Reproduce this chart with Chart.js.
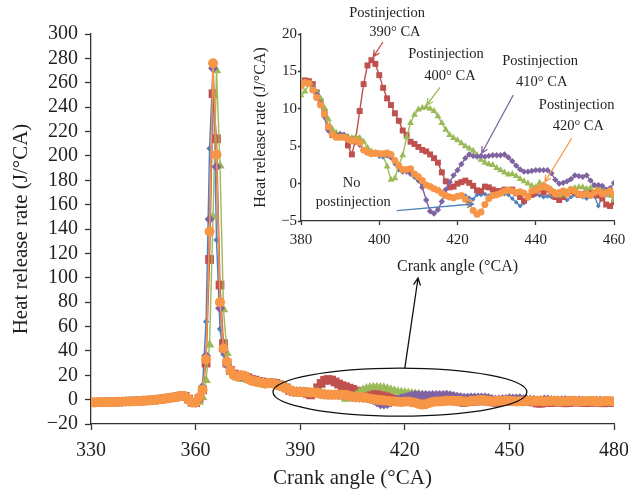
<!DOCTYPE html>
<html>
<head>
<meta charset="utf-8">
<script src="https://cdn.jsdelivr.net/npm/chart.js@4.4.0/dist/chart.umd.min.js"></script>
<style>
  body { margin: 0; background: #fff; }
  #wrap { position: relative; width: 628px; height: 492px; }
  #main { position: absolute; left: 0; top: 0; }
  #inset { position: absolute; left: 240px; top: 0; }
</style>
</head>
<body>
<div id="wrap">
  <canvas id="main" width="628" height="492"></canvas>
  <canvas id="inset" width="388" height="285"></canvas>
</div>
<script>
// crank angle, 1 deg steps
var crankAngle = [
  330,331,332,333,334,335,336,337,338,339,340,341,342,343,344,345,346,347,348,349,
  350,351,352,353,354,355,356,357,358,359,360,361,362,363,364,365,366,367,368,369,
  370,371,372,373,374,375,376,377,378,379,380,381,382,383,384,385,386,387,388,389,
  390,391,392,393,394,395,396,397,398,399,400,401,402,403,404,405,406,407,408,409,
  410,411,412,413,414,415,416,417,418,419,420,421,422,423,424,425,426,427,428,429,
  430,431,432,433,434,435,436,437,438,439,440,441,442,443,444,445,446,447,448,449,
  450,451,452,453,454,455,456,457,458,459,460,461,462,463,464,465,466,467,468,469,
  470,471,472,473,474,475,476,477,478,479,480
];

var noPost = [
  -2.3,-2.3,-2.2,-2.2,-2.1,-2.0,-2.0,-1.9,-1.8,-1.7,-1.6,-1.5,-1.4,-1.3,-1.1,-1.0,-0.8,-0.6,-0.3,0.0,
  0.3,0.7,1.1,1.5,2.0,2.5,3.0,2.6,0.2,-2.3,-1.5,3,12,64,206,274,131,58,37,27,
  22,20,19.5,19,18,17,16,15,14.5,14,13.4,13.6,13.5,12.6,11.8,10.8,8.8,7.0,6.4,6.2,
  6.5,6.6,6.2,5.9,5.7,5.3,4.5,4.1,4.0,4.0,3.6,3.5,3.8,3.6,2.6,1.8,1.5,1.6,1.2,0.8,
  0.3,-0.2,-0.3,-0.5,-0.7,-0.9,-1.1,-1.5,-1.7,-1.8,-1.7,-1.5,-1.6,-1.9,-2.1,-1.5,-1.5,-1.4,-1.6,-1.7,
  -1.6,-1.4,-1.4,-1.5,-2.0,-2.5,-3.0,-2.6,-2.0,-1.6,-1.5,-1.6,-1.8,-1.7,-1.8,-1.6,-1.4,-1.6,-2.2,-1.8,
  -1.5,-1.6,-1.8,-2.0,-1.6,-1.7,-3.0,-1.8,-1.5,-1.6,-1.8,-1.8,-2.0,-1.6,-1.4,-1.5,-1.7,-2.0,-1.8,-1.5,
  -1.4,-1.6,-1.8,-2.0,-1.7,-1.5,-1.4,-1.6,-1.8,-1.9,-1.7
];
var post390 = [
  -2.2,-2.3,-2.2,-2.1,-2.1,-2.0,-1.9,-1.9,-1.8,-1.6,-1.5,-1.5,-1.3,-1.2,-1.1,-0.9,-0.8,-0.5,-0.3,0.1,
  0.4,0.7,1.2,1.6,2.0,2.6,3.1,2.7,0.4,-2.2,-2.5,1,8,30,115,251,214,94,46,30,
  24,21,20,20,19,18,16.5,16,15,14.5,13.2,13.8,13.7,13.3,12.2,11.0,9.6,7.5,6.5,6.3,
  6.4,6.2,5.1,3.9,6.0,9.7,13.3,15.8,16.5,16.0,14.5,12.8,11.4,10.5,9.4,8.4,7.1,6.5,5.6,5.3,
  4.9,4.5,4.3,3.9,3.4,2.8,1.5,0.3,-0.5,-0.4,0.0,0.2,0.4,0.1,-0.3,-0.9,-1.0,-0.4,-0.5,-0.8,
  -1.0,-1.0,-0.8,-0.9,-0.8,-1.3,-1.8,-2.3,-1.7,-1.5,-1.2,-0.8,-1.2,-0.8,-1.2,-1.8,-2.2,-1.8,-1.3,-1.0,
  -1.2,-1.5,-1.4,-1.1,-1.2,-1.4,-1.6,-2.0,-2.8,-3.0,-2.5,-2.2,-2.4,-2.0,-1.8,-2.2,-2.6,-2.4,-2.0,-1.8,
  -2.0,-2.3,-2.5,-2.2,-1.9,-2.0,-2.3,-2.6,-2.4,-2.1,-2.3
];
var post400 = [
  -2.4,-2.3,-2.3,-2.2,-2.2,-2.1,-2.0,-1.9,-1.9,-1.7,-1.6,-1.5,-1.4,-1.3,-1.2,-1.0,-0.9,-0.6,-0.4,-0.1,
  0.2,0.6,1.0,1.4,1.9,2.4,2.9,2.5,0.1,-2.5,-2.8,-2,2,16,45,150,270,192,74,38,
  26,21,18,17,17,16,15,14,13,12.5,11.8,12.3,13.2,12.9,12.2,11.4,10.1,8.6,7.3,6.8,
  6.6,6.4,6.3,6.1,6.2,6.1,5.6,4.8,4.3,4.1,4.0,3.8,2.3,0.5,0.7,2.5,3.8,6.2,8.1,9.2,
  9.9,10.1,10.2,10.0,9.7,9.0,8.1,7.2,6.5,6.1,5.8,5.4,5.0,4.7,4.4,3.8,3.2,2.8,2.6,2.5,
  2.1,1.8,1.5,1.2,1.3,1.0,0.6,0.3,0.0,-0.3,-0.5,0.1,-0.2,-0.6,-0.8,-1.2,-1.6,-1.4,-1.1,-0.8,
  -0.6,-0.5,-0.5,-0.7,-0.6,-0.3,-0.4,-0.8,-1.2,-1.6,-2.2,-2.0,-1.6,-1.2,-1.0,-1.3,-1.7,-2.0,-1.8,-1.4,
  -1.2,-1.5,-1.8,-2.0,-1.7,-1.4,-1.3,-1.6,-1.9,-2.0,-1.8
];
var post410 = [
  -2.3,-2.2,-2.2,-2.1,-2.1,-2.0,-1.9,-1.8,-1.7,-1.7,-1.5,-1.4,-1.4,-1.2,-1.1,-0.9,-0.7,-0.6,-0.3,0.0,
  0.3,0.8,1.1,1.6,2.1,2.5,3.0,2.6,0.3,-2.3,-2.5,1,8,36,148,272,191,75,40,29,
  23,20,19,19,18,17,16,15,14.5,14,13.3,13.6,13.5,12.8,11.9,10.7,9.0,7.2,6.5,6.4,
  6.6,6.5,6.1,5.8,5.6,5.2,4.5,4.2,4.0,4.0,4.0,3.8,3.8,3.5,3.0,2.2,1.7,1.6,1.4,1.1,
  0.5,-0.5,-2.2,-3.7,-4.0,-3.5,-2.4,-0.8,0.2,1.1,1.8,2.6,3.4,3.9,3.7,3.6,3.7,3.6,3.7,3.8,
  3.8,3.8,3.9,3.5,3.0,2.4,1.9,1.6,1.6,1.7,1.8,1.8,1.8,1.8,1.4,0.5,0.0,0.1,0.3,0.6,
  1.1,1.0,0.9,1.1,0.4,-0.2,-0.2,-0.3,-0.8,-0.6,0.1,0.2,-0.3,-0.8,-1.0,-0.6,-0.4,-0.8,-1.2,-1.0,
  -0.7,-0.9,-1.3,-1.5,-1.2,-0.9,-1.0,-1.4,-1.6,-1.3,-1.5
];
var post420 = [
  -2.2,-2.3,-2.2,-2.2,-2.1,-2.0,-2.0,-1.9,-1.8,-1.7,-1.6,-1.5,-1.4,-1.3,-1.1,-1.0,-0.8,-0.6,-0.3,0.0,
  0.3,0.7,1.1,1.5,2.0,2.5,3.0,2.6,0.2,-2.3,-2.3,2,8,33,138,276,201,80,42,31,
  24,20,19,20,19.5,17,15.5,15,14.5,13.8,13.0,13.5,13.4,12.5,11.5,10.5,9.3,7.6,6.6,6.2,
  6.2,6.2,6.0,5.7,5.8,5.5,4.5,4.2,4.0,4.1,4.0,4.0,4.1,3.9,3.1,2.4,1.9,1.9,2.0,1.3,
  0.9,0.4,-0.2,-0.4,-0.7,-0.9,-1.3,-1.6,-1.8,-1.9,-1.7,-1.6,-2.1,-2.6,-3.6,-4.1,-3.8,-2.8,-2.0,-1.6,
  -1.5,-1.3,-1.0,-0.9,-1.0,-1.2,-1.1,-1.3,-1.8,-1.0,-0.9,-0.6,-0.3,-0.6,-1.0,-1.4,-1.2,-1.0,-1.4,-0.8,
  -1.0,-1.4,-1.5,-1.4,-1.6,-1.2,-1.0,-1.4,-1.2,-1.0,-1.5,-1.4,-1.2,-1.0,-1.3,-1.6,-1.4,-1.1,-1.0,-1.3,
  -1.5,-1.6,-1.3,-1.1,-1.2,-1.5,-1.7,-1.4,-1.2,-1.3,-1.5
];

var mainXTicks = [330, 360, 390, 420, 450, 480];
var mainYTicks = [-20, 0, 20, 40, 60, 80, 100, 120, 140, 160, 180, 200, 220, 240, 260, 280, 300];
var insetXTicks = [380, 400, 420, 440, 460];
var insetYTicks = [-5, 0, 5, 10, 15, 20];

var FONT = "'Liberation Serif', 'DejaVu Serif', serif";
var INK = '#231f20';

var series = [
  { label: 'Postinjection 420° CA', data: post420, color: '#F79646', style: 'circle', r: 5, ri: 3.5, order: 0 },
  { label: 'Postinjection 410° CA', data: post410, color: '#8064A2', style: 'rectRot', r: 5, ri: 3.2, order: 1 },
  { label: 'Postinjection 400° CA', data: post400, color: '#9BBB59', style: 'triangle', r: 5.5, ri: 4, order: 2 },
  { label: 'Postinjection 390° CA', data: post390, color: '#C0504D', style: 'rect', r: 6.2, ri: 4.2, order: 3 },
  { label: 'No postinjection', data: noPost, color: '#4F81BD', style: 'rectRot', r: 3.2, ri: 2.4, order: 4 }
];

// annotations (data coordinates)
var zoomEllipse = { x1: 382.2, x2: 455, y1: -13.5, y2: 25.9 };
var zoomArrow = { from: [420, 25.9], to: [423.8, 99.8] };

var insetNotes = [
  { lines: [['Postinjection', 402.0, 22.8], ['390° CA', 404.0, 20.27]], from: [400.96, 18.93], to: [398.48, 16.97], color: '#C0504D' },
  { lines: [['Postinjection', 417.06, 17.33], ['400° CA', 418.08, 14.39]], from: [415.53, 12.87], to: [412.13, 10.51], color: '#9BBB59' },
  { lines: [['Postinjection', 441.09, 16.3], ['410° CA', 441.52, 13.62]], from: [434.26, 11.84], to: [426.19, 4.05], color: '#8064A2' },
  { lines: [['Postinjection', 450.47, 10.51], ['420° CA', 450.88, 7.61]], from: [449.19, 6.06], to: [442.36, 0.25], color: '#F79646' },
  { lines: [['No', 392.96, 0.04], ['postinjection', 393.37, -2.55]], from: [404.46, -3.62], to: [424.04, -2.73], color: '#4F81BD' }
];

function minus(v) {
  return v < 0 ? '\u2212' + Math.abs(v) : '' + v;
}

function arrow(ctx, x1, y1, x2, y2, color, head) {
    let a = Math.atan2(y2 - y1, x2 - x1);
    ctx.save();
    ctx.strokeStyle = color;
    ctx.lineWidth = 1.3;
    ctx.beginPath();
    ctx.moveTo(x1, y1);
    ctx.lineTo(x2, y2);
    ctx.moveTo(x2 - head * Math.cos(a - 0.45), y2 - head * Math.sin(a - 0.45));
    ctx.lineTo(x2, y2);
    ctx.lineTo(x2 - head * Math.cos(a + 0.45), y2 - head * Math.sin(a + 0.45));
    ctx.stroke();
    ctx.restore();
}

function makeDatasets(inset) {
  return series.map(function (s) {
    return {
      label: s.label,
      data: crankAngle.map(function (x, i) { return { x: x, y: s.data[i] }; }),
      borderColor: s.color,
      backgroundColor: s.color,
      borderWidth: 1.4,
      pointStyle: s.style,
      pointRadius: inset ? s.ri : s.r,
      pointBorderWidth: 0,
      pointBackgroundColor: s.color,
      order: s.order,
      tension: 0
    };
  });
}

function axis(opts) {
  return {
    type: 'linear',
    min: opts.ticks[0],
    max: opts.ticks[opts.ticks.length - 1],
    afterBuildTicks: function (s) { s.ticks = opts.ticks.map(function (v) { return { value: v }; }); },
    afterFit: opts.fit,
    border: { display: true, color: '#333', width: 1.3 },
    grid: { display: true, drawOnChartArea: false, drawTicks: true, tickLength: opts.tickLength, tickColor: '#333', tickWidth: 1.3 },
    ticks: {
      color: INK, padding: opts.pad, autoSkip: false, maxRotation: 0,
      font: { family: FONT, size: opts.tickSize },
      callback: function (v) { return minus(v); }
    },
    title: {
      display: true, text: opts.title, color: INK,
      font: { family: FONT, size: opts.titleSize },
      padding: opts.titlePad
    }
  };
}

var mainNotes = {
  id: 'mainNotes',
  afterDraw: function (chart) {
    let ctx = chart.ctx, xs = chart.scales.x, ys = chart.scales.y;
    let cx = (xs.getPixelForValue(zoomEllipse.x1) + xs.getPixelForValue(zoomEllipse.x2)) / 2;
    let cy = (ys.getPixelForValue(zoomEllipse.y1) + ys.getPixelForValue(zoomEllipse.y2)) / 2;
    let rx = Math.abs(xs.getPixelForValue(zoomEllipse.x2) - xs.getPixelForValue(zoomEllipse.x1)) / 2;
    let ry = Math.abs(ys.getPixelForValue(zoomEllipse.y1) - ys.getPixelForValue(zoomEllipse.y2)) / 2;
    ctx.save();
    ctx.strokeStyle = '#111';
    ctx.lineWidth = 1.3;
    ctx.beginPath();
    ctx.ellipse(cx, cy, rx, ry, 0, 0, Math.PI * 2);
    ctx.stroke();
    ctx.restore();
    arrow(ctx, xs.getPixelForValue(zoomArrow.from[0]), ys.getPixelForValue(zoomArrow.from[1]),
      xs.getPixelForValue(zoomArrow.to[0]), ys.getPixelForValue(zoomArrow.to[1]), '#111', 8);
  }
};

var insetLabels = {
  id: 'insetLabels',
  afterDraw: function (chart) {
    let ctx = chart.ctx, xs = chart.scales.x, ys = chart.scales.y;
    ctx.save();
    ctx.fillStyle = INK;
    ctx.font = '14.5px ' + FONT;
    ctx.textAlign = 'center';
    ctx.textBaseline = 'middle';
    insetNotes.forEach(function (n) {
      n.lines.forEach(function (l) {
        ctx.fillText(l[0], xs.getPixelForValue(l[1]), ys.getPixelForValue(l[2]));
      });
      arrow(ctx, xs.getPixelForValue(n.from[0]), ys.getPixelForValue(n.from[1]),
        xs.getPixelForValue(n.to[0]), ys.getPixelForValue(n.to[1]), n.color, 7);
    });
    ctx.restore();
  }
};

// keep the plot box where the picture has it, whatever the edge labels want
function fitX(h) {
  return function (s) { s.height = h; s.paddingRight = 14; s.paddingLeft = 0; };
}

var mainChart = new Chart(document.getElementById('main'), {
  type: 'line',
  data: { datasets: makeDatasets(false) },
  options: {
    responsive: false,
    animation: false,
    devicePixelRatio: 1,
    layout: { padding: { top: 34, right: 0, left: 0, bottom: 0 } },
    plugins: { legend: { display: false }, tooltip: { enabled: false } },
    scales: {
      x: axis({ ticks: mainXTicks, tickLength: 6, pad: 9, tickSize: 20, title: 'Crank angle (°CA)', titleSize: 21,
        titlePad: { top: 1, bottom: 1 }, fit: fitX(68) }),
      y: axis({ ticks: mainYTicks, tickLength: 6, pad: 7, tickSize: 20, title: 'Heat release rate (J/°CA)', titleSize: 21,
        titlePad: { top: 9, bottom: 0 }, fit: function (s) { s.width = 91; } })
    }
  },
  plugins: [mainNotes]
});

var insetChart = new Chart(document.getElementById('inset'), {
  type: 'line',
  data: { datasets: makeDatasets(true) },
  options: {
    responsive: false,
    animation: false,
    devicePixelRatio: 1,
    layout: { padding: { top: 34, right: 0, left: 0, bottom: 0 } },
    plugins: { legend: { display: false }, tooltip: { enabled: false } },
    scales: {
      x: axis({ ticks: insetXTicks, tickLength: 4, pad: 6, tickSize: 15, title: 'Crank angle (°CA)', titleSize: 16,
        titlePad: { top: 9, bottom: 9 }, fit: fitX(64) }),
      y: axis({ ticks: insetYTicks, tickLength: 3, pad: 1, tickSize: 15, title: 'Heat release rate (J/°CA)', titleSize: 16,
        titlePad: { top: 11, bottom: 0 }, fit: function (s) { s.width = 61; } })
    }
  },
  plugins: [insetLabels]
});
</script>
</body>
</html>
